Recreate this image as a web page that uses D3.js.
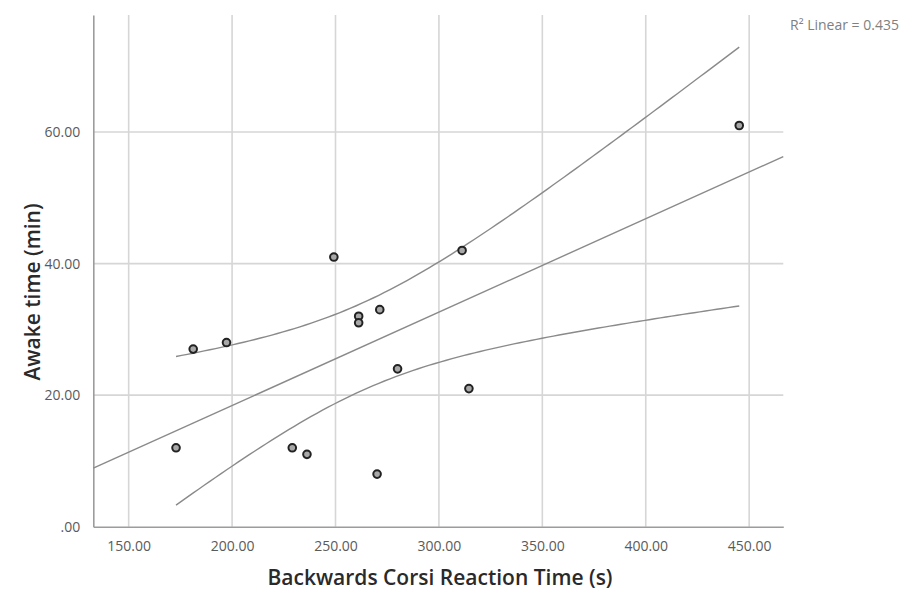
<!DOCTYPE html>
<html>
<head>
<meta charset="utf-8">
<script src="https://cdn.jsdelivr.net/npm/d3@7"></script>
<style>
html,body{margin:0;padding:0;background:#fff;}
svg{display:block;}
</style>
</head>
<body>
<svg id="chart" width="906" height="590"></svg>
<script>
// ---- data ----
const reactionTime = [172.9, 181.2, 197.3, 249.2, 229.1, 236.2, 261.2, 261.2, 271.4, 270.1, 280.0, 311.2, 314.5, 445.2];
const awakeTime    = [12, 27, 28, 41, 12, 11, 32, 31, 33, 8, 24, 42, 21, 61];
const xTicks = [150, 200, 250, 300, 350, 400, 450];
const yTicks = [0, 20, 40, 60];
const xDomain = [132.9, 466.5];
const yDomain = [0, 77.8];
const xTitle = "Backwards Corsi Reaction Time (s)";
const yTitle = "Awake time (min)";
const rLabel = "R² Linear = 0.435";
const tCrit = 2.179; // t(0.975, df = n - 2 = 12)

const svg = d3.select("#chart");
const L = 93.3, R = 783.3, T = 15, B = 526.7;
const x = d3.scaleLinear().domain(xDomain).range([L, R]);
const y = d3.scaleLinear().domain(yDomain).range([B, T]);
const FONT = "'Open Sans', 'DejaVu Sans', sans-serif";

const fmt = d => d === 0 ? ".00" : d3.format(".2f")(d);

// gridlines
const g = svg.append("g");
g.selectAll(".vg").data(xTicks).join("line")
  .attr("x1", d => x(d)).attr("x2", d => x(d)).attr("y1", T).attr("y2", B)
  .attr("stroke", "#d6d6d6").attr("stroke-width", 1.6);
g.selectAll(".hg").data(yTicks.filter(d => d > 0)).join("line")
  .attr("x1", L).attr("x2", R).attr("y1", d => y(d)).attr("y2", d => y(d))
  .attr("stroke", "#d6d6d6").attr("stroke-width", 1.6);

// axes
const xAxis = d3.axisBottom(x).tickValues(xTicks).tickFormat(fmt).tickSize(0).tickPadding(14);
const yAxis = d3.axisLeft(y).tickValues(yTicks).tickFormat(fmt).tickSize(0).tickPadding(13);
const gx = svg.append("g").attr("transform", `translate(0,${B})`).call(xAxis);
const gy = svg.append("g").attr("transform", `translate(${L},0)`).call(yAxis);
[gx, gy].forEach(a => {
  a.select(".domain").attr("stroke", "#9c9c9c").attr("stroke-width", 1.6);
  a.selectAll("text").attr("font-family", FONT)
    .attr("font-size", 14).attr("fill", "#5a5a5a");
});

// regression fit + 95% mean CI
const n = reactionTime.length;
const mx = d3.mean(reactionTime), my = d3.mean(awakeTime);
let sxy = 0, sxx = 0, syy = 0;
for (let i = 0; i < n; i++) {
  const dx = reactionTime[i] - mx, dy = awakeTime[i] - my;
  sxy += dx * dy; sxx += dx * dx; syy += dy * dy;
}
const slope = sxy / sxx, intercept = my - slope * mx;
const sse = syy - sxy * sxy / sxx;
const s = Math.sqrt(sse / (n - 2));
const fit = v => intercept + slope * v;
const half = v => tCrit * s * Math.sqrt(1 / n + (v - mx) * (v - mx) / sxx);

const lineGen = d3.line().x(d => x(d[0])).y(d => y(d[1]));
svg.append("path")
  .attr("d", lineGen(xDomain.map(v => [v, fit(v)])))
  .attr("fill", "none").attr("stroke", "#8a8a8a").attr("stroke-width", 1.4);

const [xmin, xmax] = d3.extent(reactionTime);
const xs = d3.range(0, 101).map(i => xmin + (xmax - xmin) * i / 100);
svg.append("path").attr("d", lineGen(xs.map(v => [v, fit(v) + half(v)])))
  .attr("fill", "none").attr("stroke", "#8a8a8a").attr("stroke-width", 1.4);
svg.append("path").attr("d", lineGen(xs.map(v => [v, fit(v) - half(v)])))
  .attr("fill", "none").attr("stroke", "#8a8a8a").attr("stroke-width", 1.4);

// points
svg.append("g").selectAll("circle").data(reactionTime.map((v, i) => [v, awakeTime[i]])).join("circle")
  .attr("cx", d => x(d[0])).attr("cy", d => y(d[1])).attr("r", 3.8)
  .attr("fill", "#a8a8a8").attr("stroke", "#222").attr("stroke-width", 2);

// titles
svg.append("text").attr("x", 440).attr("y", 585).attr("text-anchor", "middle")
  .attr("font-family", FONT).attr("font-size", 21).attr("font-weight", 600)
  .attr("fill", "#2a2a2a").text(xTitle);
svg.append("text").attr("transform", "translate(40,292) rotate(-90)").attr("text-anchor", "middle")
  .attr("font-family", FONT).attr("font-size", 21).attr("font-weight", 600)
  .attr("fill", "#2a2a2a").text(yTitle);
svg.append("text").attr("x", 790).attr("y", 30).attr("text-anchor", "start")
  .attr("font-family", FONT).attr("font-size", 14)
  .attr("fill", "#808080").text(rLabel);
</script>
</body>
</html>
